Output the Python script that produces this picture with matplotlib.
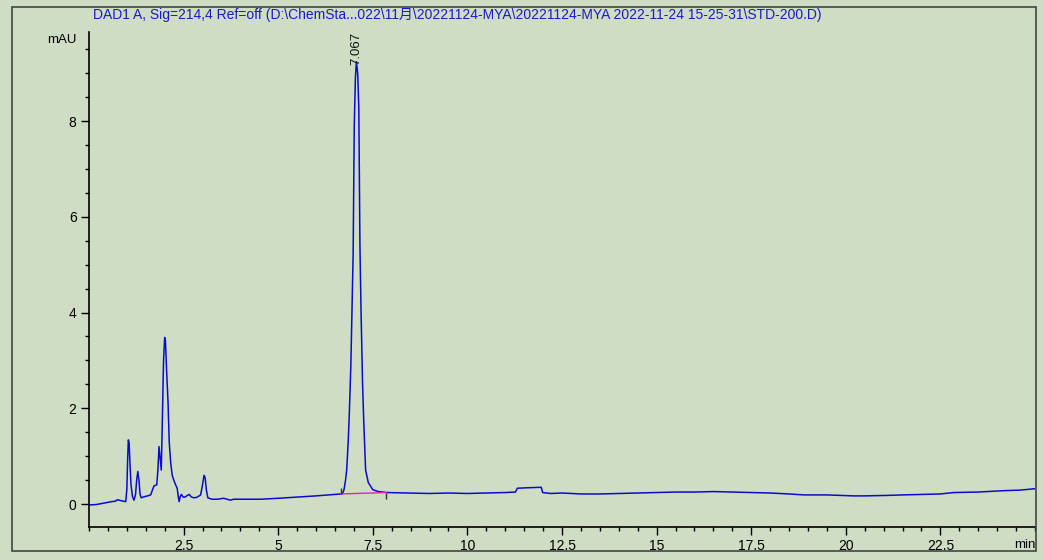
import matplotlib
matplotlib.use('Agg')
import matplotlib.pyplot as plt
from matplotlib.patches import Rectangle
from matplotlib.ticker import MultipleLocator

# signal (min, mAU)
time = [0.0, 0.2, 0.4, 0.6, 0.7, 0.75, 0.8, 0.9, 0.97,
        1.0, 1.02, 1.04, 1.06, 1.08, 1.11, 1.15, 1.19,
        1.23, 1.26, 1.29, 1.32, 1.35, 1.38, 1.45, 1.55, 1.63, 1.68, 1.72, 1.79,
        1.82, 1.85, 1.88, 1.91,
        1.94, 1.97, 2.0, 2.02, 2.05, 2.09, 2.12, 2.16, 2.2, 2.24, 2.29, 2.33, 2.36, 2.38,
        2.41, 2.44, 2.5, 2.55, 2.6, 2.65, 2.7, 2.77, 2.85, 2.95,
        3.0, 3.04, 3.07, 3.1, 3.14, 3.25, 3.39, 3.56, 3.74, 3.82, 4.18, 4.53,
        5.0, 5.59, 6.0, 6.47, 6.65,
        6.70, 6.74, 6.78, 6.81, 6.85, 6.88, 6.92, 6.95, 6.98, 7.01, 7.04, 7.067,
        7.10, 7.13, 7.16, 7.19, 7.23, 7.26, 7.31, 7.38, 7.5, 7.65, 7.86,
        8.5, 9.0, 9.5, 10.0, 10.5, 11.0, 11.27, 11.32, 11.6, 11.95, 11.99,
        12.2, 12.5, 13.0, 13.5, 14.0, 14.5, 14.9, 15.5, 16.0, 16.5, 17.0, 17.55,
        18.0, 18.5, 18.9, 19.5, 20.2, 20.5, 21.1, 21.5, 22.0, 22.5, 22.85, 23.5,
        24.2, 24.6, 25.0]
signal = [-0.02, -0.01, 0.02, 0.05, 0.06, 0.09, 0.08, 0.06, 0.05,
          0.3, 0.9, 1.34, 1.28, 0.9, 0.4, 0.15, 0.08,
          0.2, 0.5, 0.68, 0.5, 0.2, 0.13, 0.15, 0.17, 0.19, 0.3, 0.38, 0.4,
          0.7, 1.2, 0.95, 0.71,
          1.8, 3.0, 3.48, 3.42, 2.8, 2.1, 1.3, 0.85, 0.6, 0.5, 0.4, 0.33, 0.15, 0.05,
          0.15, 0.2, 0.14, 0.15, 0.18, 0.2, 0.15, 0.13, 0.14, 0.19,
          0.4, 0.6, 0.55, 0.3, 0.13, 0.1, 0.1, 0.12, 0.08, 0.1, 0.1, 0.1,
          0.12, 0.15, 0.17, 0.2, 0.21,
          0.22, 0.3, 0.5, 0.71, 1.3, 1.9, 2.9, 4.0, 5.2, 7.9, 8.9, 9.24,
          9.0, 8.3, 5.4, 4.0, 2.5, 1.75, 0.71, 0.45, 0.3, 0.26, 0.24,
          0.23, 0.22, 0.23, 0.22, 0.23, 0.24, 0.25, 0.33, 0.34, 0.35, 0.24,
          0.22, 0.23, 0.21, 0.21, 0.22, 0.23, 0.24, 0.25, 0.25, 0.26, 0.25, 0.24,
          0.23, 0.21, 0.19, 0.19, 0.17, 0.17, 0.18, 0.19, 0.2, 0.21, 0.24, 0.25,
          0.28, 0.29, 0.32]

# integration baseline of the main peak
base_t = [6.65, 7.86]
base_v = [0.21, 0.24]
peak_t = 7.067
peak_v = 9.24
peak_label = '7.067'

title = ('DAD1 A, Sig=214,4 Ref=off (D:\\ChemSta...022\\11月\\20221124-MYA\\'
         '20221124-MYA 2022-11-24 15-25-31\\STD-200.D)')

bg = '#cfddc4'
fonts = ['Liberation Sans', 'Noto Sans CJK SC', 'DejaVu Sans']
plt.rcParams['font.family'] = fonts

fig = plt.figure(figsize=(10.44, 5.6), dpi=100, facecolor=bg)
ax = fig.add_axes([89/1044, 1-527/560, (1035-89)/1044, (527-32)/560])
ax.set_facecolor(bg)

ax.plot(time, signal, color='#0a0ad0', lw=1.1)
ax.plot(base_t, base_v, color='#e020c8', lw=1.0)
ax.vlines(base_t[0], base_v[0], base_v[0] + 0.13, color='#333333', lw=1)
ax.vlines(base_t[1], base_v[1] - 0.13, base_v[1], color='#333333', lw=1)

ax.text(peak_t, peak_v - 0.07, peak_label, rotation=90, ha='center', va='bottom',
        fontsize=9.5, color='#111111')

ax.set_xlim(0, 25)
ax.set_ylim(-0.48, 9.86)
ax.xaxis.set_major_locator(MultipleLocator(2.5))
ax.xaxis.set_minor_locator(MultipleLocator(0.5))
ax.yaxis.set_major_locator(MultipleLocator(2))
ax.yaxis.set_minor_locator(MultipleLocator(0.5))
ax.set_xticks([2.5, 5, 7.5, 10, 12.5, 15, 17.5, 20, 22.5])
ax.set_xticklabels(['2.5', '5', '7.5', '10', '12.5', '15', '17.5', '20', '22.5'])
ax.tick_params(which='major', direction='out', length=6, width=1, labelsize=10, pad=3)
ax.tick_params(which='minor', direction='out', length=3, width=1)

for s in ['top', 'right']:
    ax.spines[s].set_visible(False)
for s in ['left', 'bottom']:
    ax.spines[s].set_linewidth(1.2)

fig.patches.append(Rectangle((12/1044, 1-551/560), (1036-12)/1044, (551-7)/560,
                             transform=fig.transFigure, fill=False,
                             edgecolor='#444444', lw=1.2))

fig.text(93/1044, 1-15/560, title, color='#1a1acc', fontsize=10, va='center', ha='left')
fig.text(62/1044, 1-40/560, 'mAU', fontsize=9.5, ha='center', va='center')
fig.text(1025/1044, 1-545/560, 'min', fontsize=9.5, ha='center', va='center')

fig.savefig('out.png', dpi=100, facecolor=bg)
